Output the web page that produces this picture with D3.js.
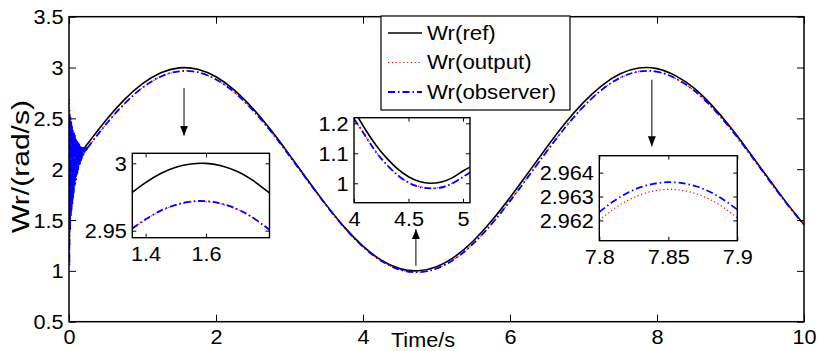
<!DOCTYPE html>
<html>
<head>
<meta charset="utf-8">
<script src="https://d3js.org/d3.v7.min.js"></script>
<style>
  body { margin: 0; background: #fff; }
  text { font-family: "Liberation Sans", Arial, sans-serif; }
</style>
</head>
<body>
<script>
// ---- data ----
const timeS = [0.25, 0.5, 0.75, 1, 1.25, 1.5, 1.75, 2, 2.25, 2.5, 2.75, 3, 3.25, 3.5, 3.75, 4,
  4.25, 4.5, 4.75, 5, 5.25, 5.5, 5.75, 6, 6.25, 6.5, 6.75, 7, 7.25, 7.5, 7.75, 8,
  8.25, 8.5, 8.75, 9, 9.25, 9.5, 9.75, 10];
const wrRef = [2.247, 2.479, 2.682, 2.841, 2.949, 2.997, 2.984, 2.909, 2.778, 2.598, 2.382, 2.141, 1.892, 1.649, 1.428, 1.243,
  1.105, 1.022, 1.001, 1.041, 1.141, 1.294, 1.492, 1.721, 1.967, 2.215, 2.451, 2.657, 2.823, 2.938, 2.995, 2.989,
  2.920, 2.799, 2.625, 2.412, 2.173, 1.925, 1.681, 1.456];
const wrOutput = [2.207, 2.438, 2.640, 2.801, 2.911, 2.962, 2.953, 2.882, 2.756, 2.580, 2.368, 2.130, 1.884, 1.643, 1.422, 1.236,
  1.097, 1.011, 0.986, 1.022, 1.118, 1.267, 1.460, 1.685, 1.928, 2.174, 2.409, 2.615, 2.782, 2.899, 2.959, 2.958,
  2.893, 2.775, 2.606, 2.398, 2.162, 1.916, 1.674, 1.450];
const wrObserver = [2.208, 2.439, 2.641, 2.802, 2.912, 2.963, 2.954, 2.883, 2.757, 2.581, 2.369, 2.131, 1.885, 1.644, 1.423, 1.237,
  1.098, 1.012, 0.987, 1.023, 1.119, 1.268, 1.461, 1.686, 1.929, 2.175, 2.410, 2.616, 2.783, 2.900, 2.960, 2.959,
  2.894, 2.776, 2.607, 2.399, 2.163, 1.917, 1.675, 1.451];

// start-up transient (first quarter second)
const noiseT = [0, 0.005, 0.01, 0.015, 0.02, 0.025, 0.03, 0.035, 0.04, 0.045, 0.05, 0.055, 0.06, 0.065, 0.07, 0.075,
  0.08, 0.085, 0.09, 0.095, 0.1, 0.105, 0.11, 0.115, 0.12, 0.125, 0.13, 0.135, 0.14, 0.145, 0.15, 0.155,
  0.16, 0.165, 0.17, 0.175, 0.18, 0.185, 0.19, 0.195, 0.2, 0.205, 0.21, 0.215, 0.22, 0.225, 0.23, 0.235,
  0.24, 0.245];
const noiseObserver = [2.00, 1.05, 2.53, 1.40, 2.51, 1.53, 2.46, 1.60, 2.43, 1.66, 2.40, 1.72, 2.37, 1.77, 2.35, 1.82,
  2.33, 1.86, 2.31, 1.90, 2.29, 1.94, 2.27, 1.97, 2.26, 2.00, 2.25, 2.03, 2.24, 2.05, 2.23, 2.07,
  2.22, 2.09, 2.22, 2.11, 2.21, 2.13, 2.21, 2.14, 2.21, 2.16, 2.21, 2.17, 2.21, 2.18, 2.21, 2.19,
  2.21, 2.20];
const noiseOutput = [2.00, 2.70, 1.25, 2.58, 1.45, 2.50, 1.56, 2.45, 1.63, 2.41, 1.69, 2.38, 1.75, 2.36, 1.80, 2.34,
  1.84, 2.32, 1.88, 2.30, 1.92, 2.28, 1.95, 2.27, 1.99, 2.26, 2.02, 2.25, 2.04, 2.24, 2.06, 2.23,
  2.08, 2.22, 2.10, 2.22, 2.12, 2.21, 2.14, 2.21, 2.15, 2.21, 2.16, 2.21, 2.17, 2.21, 2.18, 2.21,
  2.19, 2.20];
const refStart = [[0, 2.0], [0.25, 2.247]];

// zoom 1 (around t = 1.57)
const zoom1T = [1.356, 1.40, 1.45, 1.50, 1.55, 1.60, 1.65, 1.70, 1.75, 1.81];
const zoom1Ref = [2.9785, 2.9857, 2.9924, 2.9971, 2.9995, 2.9999, 2.9981, 2.9942, 2.9881, 2.9780];
const zoom1Output = [2.9514, 2.9581, 2.9646, 2.9689, 2.9713, 2.9716, 2.9698, 2.9660, 2.9601, 2.9504];
const zoom1Observer = [2.9517, 2.9584, 2.9649, 2.9692, 2.9716, 2.9719, 2.9701, 2.9663, 2.9604, 2.9507];

// zoom 2 (around t = 4.71)
const zoom2T = [4.0, 4.1, 4.2, 4.3, 4.4, 4.5, 4.6, 4.7, 4.8, 4.9, 5.0, 5.064];
const zoom2Ref = [1.243, 1.182, 1.128, 1.084, 1.048, 1.022, 1.006, 1.000, 1.004, 1.018, 1.041, 1.054];
const zoom2Output = [1.216, 1.161, 1.106, 1.063, 1.028, 1.003, 0.989, 0.984, 0.987, 1.000, 1.022, 1.037];
const zoom2Observer = [1.215, 1.160, 1.105, 1.062, 1.027, 1.002, 0.988, 0.983, 0.986, 0.999, 1.021, 1.036];

// zoom 3 (around t = 7.85)
const zoom3T = [7.80, 7.81, 7.82, 7.83, 7.84, 7.85, 7.86, 7.87, 7.88, 7.89, 7.90];
const zoom3Output = [2.96200, 2.96246, 2.96282, 2.96308, 2.96324, 2.96330, 2.96326, 2.96312, 2.96288, 2.96254, 2.96210];
const zoom3Observer = [2.96235, 2.96279, 2.96314, 2.96339, 2.96354, 2.96360, 2.96356, 2.96343, 2.96320, 2.96287, 2.96245];

const mainXTicks = [0, 2, 4, 6, 8, 10];
const mainYTicks = [0.5, 1, 1.5, 2, 2.5, 3, 3.5];
const legendNames = ['Wr(ref)', 'Wr(output)', 'Wr(observer)'];

// ---- styles ----
const FS = 19.5;          // tick font size
const STRETCH = 1.11;     // glyphs in the picture are a bit wider than tall
const styles = {
  ref: {stroke: '#000', width: 1.6, dash: null},
  output: {stroke: '#ff0000', width: 1.2, dash: '1.2,2.6'},
  observer: {stroke: '#0000ff', width: 1.8, dash: '7,3,1.5,3'}
};

const svg = d3.select('body').append('svg')
  .attr('width', 819).attr('height', 351);

const defs = svg.append('defs');
defs.append('marker')
  .attr('id', 'head')
  .attr('viewBox', '0 0 10 10')
  .attr('refX', 10).attr('refY', 5)
  .attr('markerWidth', 10).attr('markerHeight', 10)
  .attr('markerUnits', 'userSpaceOnUse')
  .attr('orient', 'auto')
  .append('path').attr('d', 'M0,1 L10,5 L0,9 Z').attr('fill', '#000');

let clipId = 0;

function stretchText(sel, k) {
  sel.each(function () {
    const w = this.getComputedTextLength();
    if (w > 0) d3.select(this).attr('textLength', w * k).attr('lengthAdjust', 'spacingAndGlyphs');
  });
}

function panel(o) {
  const g = svg.append('g');
  const [x0, x1] = o.x.range();
  const [yb, yt] = o.y.range();
  if (o.bg) {
    g.append('rect').attr('x', x0).attr('y', yt).attr('width', x1 - x0).attr('height', yb - yt)
      .attr('fill', '#fff');
  }
  const id = 'clip' + (clipId++);
  defs.append('clipPath').attr('id', id).append('rect')
    .attr('x', x0).attr('y', yt).attr('width', x1 - x0).attr('height', yb - yt);
  const plot = g.append('g').attr('clip-path', `url(#${id})`);

  o.series.forEach(s => {
    const st = styles[s.kind];
    plot.append('path')
      .datum(s.data)
      .attr('fill', 'none')
      .attr('stroke', st.stroke)
      .attr('stroke-width', st.width)
      .attr('stroke-dasharray', st.dash)
      .attr('stroke-linejoin', 'round')
      .attr('d', d3.line().x(d => o.x(d[0])).y(d => o.y(d[1])).curve(s.curve || d3.curveNatural));
  });

  const fmt = (ticks, labels) => (d => labels[ticks.indexOf(d)]);
  const axes = [
    [d3.axisBottom(o.x).tickValues(o.xTicks).tickFormat(fmt(o.xTicks, o.xLabels)), `translate(0,${yb})`, true],
    [d3.axisTop(o.x).tickValues(o.xTicks).tickFormat(() => ''), `translate(0,${yt})`, false],
    [d3.axisLeft(o.y).tickValues(o.yTicks).tickFormat(fmt(o.yTicks, o.yLabels)), `translate(${x0},0)`, true],
    [d3.axisRight(o.y).tickValues(o.yTicks).tickFormat(() => ''), `translate(${x1},0)`, false]
  ];
  axes.forEach(([ax, tr, labelled], i) => {
    const bottom = i === 0;
    ax.tickSizeInner(-o.tick).tickSizeOuter(0).tickPadding(bottom ? o.xGap : o.yGap);
    const a = g.append('g').attr('transform', tr).call(ax);
    a.select('.domain').remove();
    a.attr('font-family', null).attr('font-size', null);
    a.selectAll('line').attr('stroke', '#000').attr('stroke-width', 1);
    a.selectAll('text').attr('fill', '#000').style('font-size', FS + 'px');
    if (bottom) a.selectAll('text').attr('dy', '0.72em');
    else a.selectAll('text').attr('dy', '0.36em');
    if (labelled) stretchText(a.selectAll('text'), STRETCH);
  });

  g.append('rect').attr('x', x0).attr('y', yt).attr('width', x1 - x0).attr('height', yb - yt)
    .attr('fill', 'none').attr('stroke', '#000').attr('stroke-width', o.frame);
  return g;
}

const zip = (a, b) => a.map((v, i) => [v, b[i]]);

// ---- main axes ----
const x = d3.scaleLinear().domain([0, 10]).range([69, 804]);
const y = d3.scaleLinear().domain([0.5, 3.5]).range([321.7, 16.7]);

panel({
  x, y, tick: 7, xGap: 8, yGap: 5.5, frame: 1.5,
  xTicks: mainXTicks, xLabels: mainXTicks.map(String),
  yTicks: mainYTicks, yLabels: mainYTicks.map(String),
  series: [
    {kind: 'ref', data: refStart, curve: d3.curveLinear},
    {kind: 'ref', data: zip(timeS, wrRef)},
    {kind: 'output', data: zip(noiseT, noiseOutput).concat([[0.25, wrOutput[0]]]), curve: d3.curveLinear},
    {kind: 'output', data: zip(timeS, wrOutput)},
    {kind: 'observer', data: zip(noiseT, noiseObserver).concat([[0.25, wrObserver[0]]]), curve: d3.curveLinear},
    {kind: 'observer', data: zip(timeS, wrObserver)}
  ]
});

// axis titles
const yTitle = svg.append('text')
  .attr('transform', 'translate(29,166.5) rotate(-90)')
  .attr('text-anchor', 'middle')
  .style('font-size', '23px')
  .text('Wr/(rad/s)');
yTitle.attr('textLength', 133).attr('lengthAdjust', 'spacingAndGlyphs');

const xTitle = svg.append('text')
  .attr('x', 423).attr('y', 347)
  .attr('text-anchor', 'middle')
  .style('font-size', FS + 'px')
  .text('Time/s');
stretchText(xTitle, STRETCH);

// ---- arrows (in main data units) ----
const arrows = [
  {t: 1.565, from: 2.80, to: 2.33},
  {t: 4.72, from: 1.05, to: 1.41},
  {t: 7.93, from: 2.88, to: 2.225}
];
svg.append('g').selectAll('line').data(arrows).join('line')
  .attr('x1', d => x(d.t)).attr('x2', d => x(d.t))
  .attr('y1', d => y(d.from)).attr('y2', d => y(d.to))
  .attr('stroke', '#000').attr('stroke-width', 1)
  .attr('marker-end', 'url(#head)');

// ---- insets ----
panel({
  x: d3.scaleLinear().domain([1.356, 1.81]).range([132.3, 269.5]),
  y: d3.scaleLinear().domain([2.9448, 3.0074]).range([237.7, 153.3]),
  bg: true, tick: 4, xGap: 9.5, yGap: 5.5, frame: 1.4,
  xTicks: [1.4, 1.6], xLabels: ['1.4', '1.6'],
  yTicks: [2.95, 3], yLabels: ['2.95', '3'],
  series: [
    {kind: 'ref', data: zip(zoom1T, zoom1Ref)},
    {kind: 'output', data: zip(zoom1T, zoom1Output)},
    {kind: 'observer', data: zip(zoom1T, zoom1Observer)}
  ]
});

panel({
  x: d3.scaleLinear().domain([4, 5.064]).range([354, 470]),
  y: d3.scaleLinear().domain([0.9353, 1.2187]).range([202.7, 117.7]),
  bg: true, tick: 4, xGap: 9.5, yGap: 5.5, frame: 1.4,
  xTicks: [4, 4.5, 5], xLabels: ['4', '4.5', '5'],
  yTicks: [1, 1.1, 1.2], yLabels: ['1', '1.1', '1.2'],
  series: [
    {kind: 'ref', data: zip(zoom2T, zoom2Ref)},
    {kind: 'output', data: zip(zoom2T, zoom2Output)},
    {kind: 'observer', data: zip(zoom2T, zoom2Observer)}
  ]
});

panel({
  x: d3.scaleLinear().domain([7.8, 7.9]).range([599.3, 737.3]),
  y: d3.scaleLinear().domain([2.96115, 2.96471]).range([240.7, 155.7]),
  bg: true, tick: 4, xGap: 9.5, yGap: 5.5, frame: 1.4,
  xTicks: [7.8, 7.85, 7.9], xLabels: ['7.8', '7.85', '7.9'],
  yTicks: [2.962, 2.963, 2.964], yLabels: ['2.962', '2.963', '2.964'],
  series: [
    {kind: 'output', data: zip(zoom3T, zoom3Output)},
    {kind: 'observer', data: zip(zoom3T, zoom3Observer)}
  ]
});

// ---- legend ----
const lg = svg.append('g');
lg.append('rect').attr('x', 381).attr('y', 16).attr('width', 189).attr('height', 94)
  .attr('fill', '#fff').attr('stroke', '#000').attr('stroke-width', 1.2);
const legendKinds = ['ref', 'output', 'observer'];
const legendRow = d3.scalePoint().domain(legendKinds).range([33, 92]);
legendKinds.forEach((k, i) => {
  const st = styles[k];
  lg.append('line')
    .attr('x1', 388).attr('x2', 422)
    .attr('y1', legendRow(k)).attr('y2', legendRow(k))
    .attr('stroke', st.stroke).attr('stroke-width', st.width)
    .attr('stroke-dasharray', st.dash);
  const t = lg.append('text')
    .attr('x', 427).attr('y', legendRow(k)).attr('dy', '0.35em')
    .style('font-size', FS + 'px')
    .text(legendNames[i]);
  stretchText(t, 1.14);
});
</script>
</body>
</html>
